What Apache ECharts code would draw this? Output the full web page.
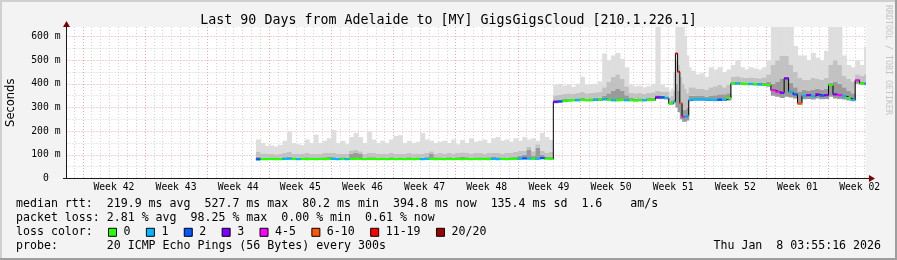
<!DOCTYPE html>
<html><head><meta charset="utf-8">
<script src="https://cdn.jsdelivr.net/npm/echarts@6/dist/echarts.min.js"></script>
<style>html,body{margin:0;padding:0;background:#f3f3f3}#c{width:897px;height:260px}</style>
</head><body><div id="c"></div><script>
// time in days since Sun 12 Oct 2025 00:00 (local), range ends Thu 8 Jan 2026 03:55:16
const xMin = -1.8363, xMax = 88.1634;
const t = [
 19.5,20,20.5,21,21.5,22,22.5,23,23.5,24,24.5,25,25.5,26,26.5,27,27.5,28,28.5,29,29.5,30,30.5,31,31.5,32,32.5,33,33.5,34,34.5,35,35.5,36,36.5,37,37.5,38,38.5,39,39.5,40,40.5,41,41.5,42,42.5,43,43.5,44,44.5,45,45.5,46,46.5,47,47.5,48,48.5,49,49.5,50,50.5,51,51.5,52,52.5,
 53,53.5,54,54.5,55,55.5,56,56.5,57,57.5,58,58.5,59,59.5,60,60.5,61,61.5,62,62.5,63,63.5,64,64.5,65,65.5,66,
 66.25,66.5,66.75,67,67.25,67.5,67.75,68,68.25,
 68.5,69,69.5,70,70.5,71,71.5,72,72.5,73,73.5,74,74.5,75,75.5,76,76.5,77,77.5,78,78.5,79,79.5,80,80.5,81,81.5,82,82.5,83,83.5,84,84.5,85,85.5,86,86.5,87,87.5,88,
 88.1634
];
// median rtt (ms)
const med = [
 81,82,82,83,82,82,83,84,83,82, 83,82,83,82,83,82,83,83,82,83, 82,83,84,83,82,83,83,82,83,82, 83,82,83,82,83,82,83,82,83,83, 82,83,82,83,82,83,82,83,82,83, 82,83,82,83,82,83,82,83,83,84, 85,84,83,84,86,84,83,
 324,326,328,330,331,331,332,331,331,332,333,335,332,331,331,332,331,331,330,331,331,332,333,343,343,340,317,
 317,324,528,451,318,261,261,265,331,
 334,334,334,333,333,332,333,333,340,402,402,401,400,400,399,398,397,395,373,366,362,423,366,355,318,350,352,348,355,350,352,395,355,352,348,340,332,415,402,400,
 400
];
// lost pings out of 20
const loss = [
 2,0,0,0,0,0,1,1,0,1, 0,0,0,0,0,0,0,1,1,0, 1,0,0,0,0,0,0,0,0,0, 0,0,0,0,0,0,0,1,1,0, 0,0,0,0,0,0,0,0,0,0, 0,0,0,1,1,0,0,0,0,1, 2,1,0,1,2,0,0,
 3,2,0,0,0,1,0,0,0,1,0,1,0,1,0,0,1,0,0,0,1,0,0,3,2,1,0,
 0,1,11,11,6,4,1,1,1,
 1,1,1,1,1,1,2,1,0,0,1,0,0,1,0,1,0,0,4,4,3,3,1,2,6,1,3,1,3,2,3,0,3,4,1,0,1,4,0,1,
 1
];
// smoke: lowest ping, top of dark band, top of medium band, highest ping (ms)
const smokeLo = [
 79,80,80,80,80,80,80,81,80,80, 80,80,80,80,80,80,80,80,80,80, 80,80,81,80,80,80,80,80,80,80, 80,80,80,80,80,80,80,80,80,80, 80,80,80,80,80,80,80,80,80,80, 80,80,80,80,80,80,80,80,80,81, 81,81,80,81,82,81,80,
 318,320,322,325,326,326,327,326,326,327,328,329,327,326,326,327,326,326,325,326,326,327,328,336,336,334,312,
 312,318,300,280,250,240,240,245,326,
 328,328,328,327,327,326,327,327,330,396,396,395,394,394,393,392,391,388,350,345,340,345,342,338,310,335,336,334,338,335,336,345,338,336,334,330,326,400,396,394,
 394
];
const smokeDark = [
 92,88,88,88,87,88,90,92,89,88, 88,90,88,89,88,90,91,90,88,90, 88,105,110,104,88,90,90,88,89,88, 90,88,89,88,90,88,89,88,90,104, 90,88,89,90,88,90,91,90,88,89, 90,88,90,91,90,88,89,90,92,96, 100,120,96,130,100,93,92,
 332,334,336,338,338,339,340,338,339,340,341,348,360,372,378,370,352,340,338,339,338,340,341,352,350,347,325,
 327,335,400,370,320,290,290,300,350,
 350,348,348,346,348,352,356,356,360,407,407,405,405,404,403,402,405,410,400,410,420,430,405,385,365,375,372,376,380,376,380,405,410,400,385,372,360,412,408,408,
 408
];
const smokeMid = [
 112,104,103,104,102,105,108,112,106,104, 104,108,104,106,105,108,110,108,104,106, 104,118,122,115,105,108,110,104,106,104, 108,104,106,104,108,104,106,104,110,115, 106,108,104,108,106,110,111,108,106,108, 110,106,108,110,108,106,108,110,113,116, 118,135,115,145,118,110,112,
 352,355,358,360,358,362,366,360,362,364,366,385,410,430,440,420,390,362,360,362,358,362,364,372,368,365,342,
 348,370,500,480,430,400,380,360,385,
 385,380,380,376,385,390,395,385,395,430,432,428,426,428,426,424,428,440,480,500,520,520,480,450,425,418,416,425,420,416,425,480,500,480,435,420,410,440,435,440,
 440
];
const smokeHi = [
 165,150,138,140,135,142,160,197,150,145, 140,165,150,185,150,160,170,205,150,160, 145,175,192,175,150,197,165,150,160,150, 165,180,183,150,160,150,155,192,165,160, 150,155,160,150,165,145,163,150,170,155, 160,165,150,170,175,160,165,155,170,160, 175,165,170,160,192,175,163,
 395,400,392,395,388,400,430,395,398,400,410,528,500,520,530,505,470,395,390,392,385,390,400,640,395,385,370,
 380,450,640,640,640,640,600,520,470,
 455,440,445,430,470,460,470,450,460,480,500,470,460,470,465,460,470,500,640,640,640,640,640,560,520,520,500,530,510,500,540,640,640,640,520,480,470,500,480,556,
 556
];
const lossNames = ['0','1','2','3','4-5','6-10','11-19','20/20'];
const lossColors = ['#26ff00','#00b8ff','#0059ff','#7e00ff','#ff00ff','#ff5500','#ff0000','#a10000'];
const smokeColors = ['#9a9a9a','#c2c2c2','#dedede'];
const weekStarts = [0,7,14,21,28,35,42,49,56,63,70,77,84];
const weekCenters = [3.5,10.5,17.5,24.5,31.5,38.5,45.5,52.5,59.5,66.5,73.5,80.5,87.5];
const weekLabels = ['Week 42','Week 43','Week 44','Week 45','Week 46','Week 47','Week 48','Week 49','Week 50','Week 51','Week 52','Week 01','Week 02'];
const yMajor = [0,100,200,300,400,500,600];
const yMajorLabels = ['0  ','100 m','200 m','300 m','400 m','500 m','600 m'];
const yMinor = [50,150,250,350,450,550];
const titleText = 'Last 90 Days from Adelaide to [MY] GigsGigsCloud [210.1.226.1]';
const line1 = 'median rtt:  219.9 ms avg  527.7 ms max  80.2 ms min  394.8 ms now  135.4 ms sd  1.6    am/s';
const line2 = 'packet loss: 2.81 % avg  98.25 % max  0.00 % min  0.61 % now';
const line3 = 'loss color:';
const line4 = 'probe:       20 ICMP Echo Pings (56 Bytes) every 300s';
const stamp = 'Thu Jan  8 03:55:16 2026';

const MONO = '"DejaVu Sans Mono"';
const dayLines = [];
for (let d = Math.ceil(xMin); d <= Math.floor(xMax); d++) dayLines.push(d);

function lossCat(n){ if(n<=3) return n; if(n<=5) return 4; if(n<=10) return 5; if(n<=19) return 6; return 7; }

const n = t.length;
// one smoke item per interval: [start, end, lo, dark, mid, hi]
const smokeData = [];
for (let i = 0; i < n-1; i++) smokeData.push([t[i], t[i+1], smokeLo[i], smokeDark[i], smokeMid[i], smokeHi[i]]);

function renderSmoke(params, api) {
  const x0 = api.value(0), x1 = api.value(1);
  const lv = [api.value(2), api.value(3), api.value(4), api.value(5)];
  const left = api.coord([x0, 0])[0];
  const right = api.coord([x1, 0])[0];
  const children = [];
  for (let b = 0; b < 3; b++) {
    const yTop = api.coord([x0, lv[b+1]])[1];
    const yBot = api.coord([x0, lv[b]])[1];
    if (yBot - yTop <= 0) continue;
    children.push({type:'rect', shape:{x:left, y:yTop, width:right-left+0.6, height:yBot-yTop},
      style:{fill:smokeColors[b]}});
  }
  return {type:'group', children};
}

const series = [
  {type:'custom', name:'smoke', renderItem:renderSmoke, data:smokeData, xAxisIndex:1, yAxisIndex:1,
   encode:{x:[0,1], y:[2,5]}, silent:true, clip:true, z:2},
  {type:'line', name:'median', step:'end', symbol:'none', xAxisIndex:1, yAxisIndex:1, silent:true,
   data: t.map((x,i)=>[x, med[i]]), lineStyle:{color:'#000', width:1}, z:3}
];
lossNames.forEach((nm, c) => {
  const d = [];
  for (let i = 0; i < n-1; i++) {
    if (lossCat(loss[i]) === c) {
      d.push([t[i], med[i]], [t[i+1], med[i]], [t[i+1], null]);
    }
  }
  series.push({type:'line', name:nm, data:d, symbol:'none', connectNulls:false, xAxisIndex:1, yAxisIndex:1, silent:true,
    color: lossColors[c], itemStyle:{color:lossColors[c]}, lineStyle:{color:lossColors[c], width:2.2}, z:4});
});

const txt = (size, lh) => ({fontFamily: MONO, fontSize: size, fontWeight:'normal', color:'#000', lineHeight: lh});
const option = {
  backgroundColor:'#f3f3f3',
  animation:false,
  grid:{left:66.5, top:27, width:799, height:151.5, show:true, backgroundColor:'#ffffff', borderWidth:0,
        containLabel:false, outerBoundsMode:'none'},
  title:[
    {text:titleText, left:'center', top:12.5, padding:0, textStyle:txt(13.3,16)},
    {text:line1, left:16, top:197.3, padding:0, textStyle:txt(11.6,14)},
    {text:line2, left:16, top:211.3, padding:0, textStyle:txt(11.6,14)},
    {text:line3, left:16, top:225.3, padding:0, textStyle:txt(11.6,14)},
    {text:line4, left:16, top:239.3, padding:0, textStyle:txt(11.6,14)},
    {text:stamp, right:16, top:239.3, padding:0, textStyle:txt(11.6,14)}
  ],
  legend:{data:lossNames, left:108, top:225.3, padding:0, itemWidth:8, itemHeight:8, itemGap:15.4, icon:'rect', selectedMode:false,
    itemStyle:{borderColor:'#000', borderWidth:1},
    textStyle:{fontFamily:MONO, fontSize:11.6, color:'#000', lineHeight:14, padding:[0,0,0,2]}},
  xAxis:[
    {type:'value', min:xMin, max:xMax, position:'bottom', axisLine:{show:false, onZero:false}, axisLabel:{show:false},
     axisTick:{show:false, customValues:dayLines},
     splitLine:{show:true, lineStyle:{color:'#d2d2d2', width:1, type:[1,2]}}},
    {type:'value', min:xMin, max:xMax, position:'bottom',
     axisLine:{show:true, onZero:false, lineStyle:{color:'#1a1a1a', width:1}},
     axisTick:{show:false, customValues:weekStarts},
     axisLabel:{customValues:weekCenters, margin:3, fontFamily:MONO, fontSize:9.72, color:'#000', lineHeight:12,
       formatter:(v)=>{const k = weekCenters.findIndex(c=>Math.abs(c-v)<1e-6); return k>=0 ? weekLabels[k] : '';}},
     splitLine:{show:true, lineStyle:{color:'#f2a3a3', width:1, type:[1,2]}}}
  ],
  yAxis:[
    {type:'value', min:0, max:640, position:'left', axisLine:{show:false, onZero:false}, axisLabel:{show:false},
     axisTick:{show:false, customValues:yMinor},
     splitLine:{show:true, lineStyle:{color:'#d2d2d2', width:1, type:[1,2]}}},
    {type:'value', min:0, max:640, position:'left',
     axisLine:{show:true, onZero:false, lineStyle:{color:'#1a1a1a', width:1}},
     axisTick:{show:false, customValues:yMajor},
     axisLabel:{customValues:yMajor, margin:6, fontFamily:MONO, fontSize:9.72, color:'#000',
       formatter:(v)=>{const k = yMajor.indexOf(v); return k>=0 ? yMajorLabels[k] : '';}},
     splitLine:{show:true, lineStyle:{color:'#f2a3a3', width:1, type:[1,2]}},
     name:'Seconds', nameLocation:'middle', nameRotate:90, nameGap:49,
     nameTextStyle:{fontFamily:'"DejaVu Sans"', fontSize:11.5, color:'#000'}}
  ],
  graphic:[
    {type:'polygon', silent:true, shape:{points:[[63,27],[70,27],[66.5,21]]}, style:{fill:'#7f0000'}},
    {type:'line', silent:true, shape:{x1:863,y1:178.5,x2:869,y2:178.5}, style:{stroke:'#1a1a1a', lineWidth:1}},
    {type:'line', silent:true, shape:{x1:63,y1:178.5,x2:67,y2:178.5}, style:{stroke:'#1a1a1a', lineWidth:1}},
    {type:'polygon', silent:true, shape:{points:[[869,175],[869,182],[875,178.5]]}, style:{fill:'#7f0000'}},
    {type:'text', silent:true, x:888.5, y:5, rotation:-Math.PI/2,
     style:{text:'RRDTOOL / TOBI OETIKER', fill:'#c4c4c4', font:'8.3px "DejaVu Sans Mono"', align:'left', verticalAlign:'middle'}},
    {type:'rect', silent:true, shape:{x:0,y:0,width:897,height:2}, style:{fill:'#cfcfcf'}},
    {type:'rect', silent:true, shape:{x:0,y:0,width:2,height:260}, style:{fill:'#cfcfcf'}},
    {type:'rect', silent:true, shape:{x:0,y:258,width:897,height:2}, style:{fill:'#9e9e9e'}},
    {type:'rect', silent:true, shape:{x:895,y:0,width:2,height:260}, style:{fill:'#9e9e9e'}}
  ],
  series: series
};
const chart = echarts.init(document.getElementById('c'), null, {renderer:'canvas'});
chart.setOption(option);
</script></body></html>
